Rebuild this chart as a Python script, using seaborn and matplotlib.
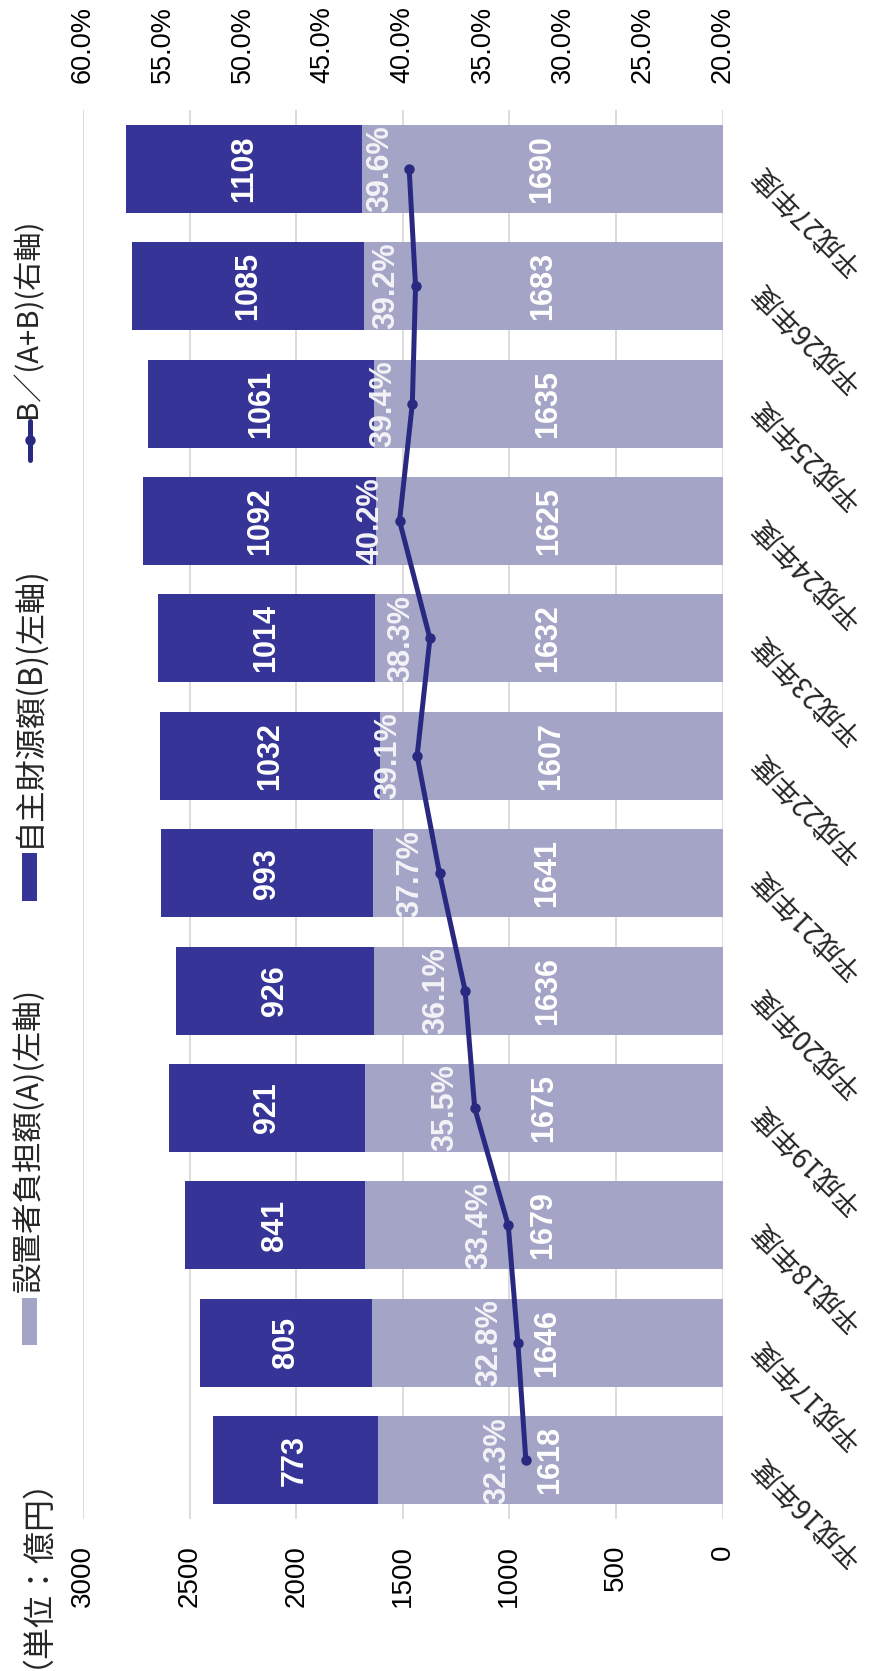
import matplotlib
matplotlib.use("Agg")
import matplotlib.pyplot as plt
from matplotlib.patches import Rectangle
from matplotlib.lines import Line2D
import seaborn as sns
import pandas as pd

# ---- data -------------------------------------------------------------
years = ["平成16年度", "平成17年度", "平成18年度", "平成19年度", "平成20年度",
         "平成21年度", "平成22年度", "平成23年度", "平成24年度", "平成25年度",
         "平成26年度", "平成27年度"]
setchisha_futan = [1618, 1646, 1679, 1675, 1636, 1641, 1607, 1632, 1625, 1635, 1683, 1690]  # A
jishu_zaigen = [773, 805, 841, 921, 926, 993, 1032, 1014, 1092, 1061, 1085, 1108]           # B
ratio_pct = [32.3, 32.8, 33.4, 35.5, 36.1, 37.7, 39.1, 38.3, 40.2, 39.4, 39.2, 39.6]        # B/(A+B)

left_ticks = [0, 500, 1000, 1500, 2000, 2500, 3000]
right_ticks = [20, 25, 30, 35, 40, 45, 50, 55, 60]

legend_labels = ["設置者負担額(A)(左軸)", "自主財源額(B)(左軸)", "B／(A+B)(右軸)"]
unit_label = "（単位：億円）"

# ---- style ------------------------------------------------------------
LIGHT = "#A4A4C6"
DARK = "#363597"
LINE = "#2A2981"
GRID = "#D9D9D9"
LABEL_FG = "#F2F2F7"

sns.set_style("white")
plt.rcParams["font.family"] = ["Liberation Sans", "Noto Sans CJK JP"]

W, H = 872, 1671
fig = plt.figure(figsize=(W / 100, H / 100), dpi=100)


def fx(px):
    return px / W


def fy(py):
    return 1 - py / H


# plot area: value axis runs right (0) to left (3000); categories top to bottom
ax = fig.add_axes([fx(83), fy(1519), fx(722.5) - fx(83), fy(110) - fy(1519)])

df = pd.DataFrame({
    "year": years,
    "A": setchisha_futan,
    "B": jishu_zaigen,
})
df["total"] = df["A"] + df["B"]
order = years[::-1]

sns.barplot(data=df, x="total", y="year", order=order, orient="h", color=DARK,
            saturation=1, width=0.75, errorbar=None, linewidth=0, ax=ax, zorder=2)
sns.barplot(data=df, x="A", y="year", order=order, orient="h", color=LIGHT,
            saturation=1, width=0.75, errorbar=None, linewidth=0, ax=ax, zorder=2)

ax.set_xlim(3000, 0)
ax.set_xticks(left_ticks)
ax.set_xticklabels([str(v) for v in left_ticks], rotation=90, fontsize=20)
ax.tick_params(axis="x", length=0, pad=18.7, colors="black")
ax.grid(axis="x", color=GRID, lw=1.3)
ax.grid(axis="y", visible=False)
ax.set_axisbelow(True)
ax.set_xlabel("")
ax.set_ylabel("")
for s in ax.spines.values():
    s.set_visible(False)

# category labels on the right, slanted
ax.yaxis.tick_right()
ax.tick_params(axis="y", length=0, pad=25, labelsize=20)
for lab in ax.get_yticklabels():
    lab.set_rotation(135)
    lab.set_ha("right")
    lab.set_va("center")
    lab.set_rotation_mode("anchor")
    lab.set_family(["Noto Sans CJK JP"])

# segment value labels
ypos = [order.index(y) for y in years]
for a, b, yp in zip(setchisha_futan, jishu_zaigen, ypos):
    ax.text(a / 2, yp, str(a), rotation=90, ha="center", va="center",
            color="white", fontsize=22, fontweight="bold", zorder=5)
    ax.text(a + b / 2, yp, str(b), rotation=90, ha="center", va="center",
            color="white", fontsize=22, fontweight="bold", zorder=5)

# ratio line on the secondary (top) axis
ax2 = ax.twiny()
line_df = pd.DataFrame({"ratio": ratio_pct, "pos": ypos})
sns.lineplot(data=line_df, x="ratio", y="pos", orient="y", sort=False, ax=ax2,
             color=LINE, lw=3.6, marker="o", markersize=7.5, markeredgewidth=0,
             zorder=4)
ax2.set_xlim(60, 20)
ax2.set_xticks(right_ticks)
ax2.set_xticklabels([f"{v:.1f}%" for v in right_ticks], rotation=90, fontsize=19.5)
ax2.tick_params(axis="x", length=0, pad=19.4, colors="black")
ax2.set_xlabel("")
ax2.set_ylabel("")
for s in ax2.spines.values():
    s.set_visible(False)
for r, yp in zip(ratio_pct, ypos):
    ax2.annotate(f"{r:.1f}%", xy=(r, yp), xytext=(-29, 0), textcoords="offset pixels",
                 rotation=90, ha="center", va="center", color=LABEL_FG,
                 fontsize=22, fontweight="bold", zorder=6)

ax.set_ylim(11.5, -0.5)

# ---- legend column (left) ---------------------------------------------
cjk = ["Noto Sans CJK JP", "Liberation Sans"]
fig.add_artist(Rectangle((fx(22), fy(1345)), fx(15), fy(1298) - fy(1345),
                         transform=fig.transFigure, color=LIGHT, lw=0))
fig.text(fx(28.5), fy(1292), legend_labels[0], rotation=90, ha="center", va="bottom",
         fontsize=22, family=cjk)
fig.add_artist(Rectangle((fx(22), fy(901)), fx(15), fy(853) - fy(901),
                         transform=fig.transFigure, color=DARK, lw=0))
fig.text(fx(28.5), fy(847), legend_labels[1], rotation=90, ha="center", va="bottom",
         fontsize=22.5, family=cjk)
fig.add_artist(Line2D([fx(29.5), fx(29.5)], [fy(460), fy(421)], transform=fig.transFigure,
                      color=LINE, lw=3.6))
fig.add_artist(Line2D([fx(29.5)], [fy(440)], transform=fig.transFigure, color=LINE,
                      marker="o", markersize=7.5, markeredgewidth=0))
fig.text(fx(28.5), fy(418), legend_labels[2], rotation=90, ha="center", va="bottom",
         fontsize=21, family=cjk)

fig.text(fx(20), fy(1668), unit_label, rotation=90, ha="center", va="bottom",
         fontsize=23, family=cjk)

fig.savefig("out.png", dpi=100)
